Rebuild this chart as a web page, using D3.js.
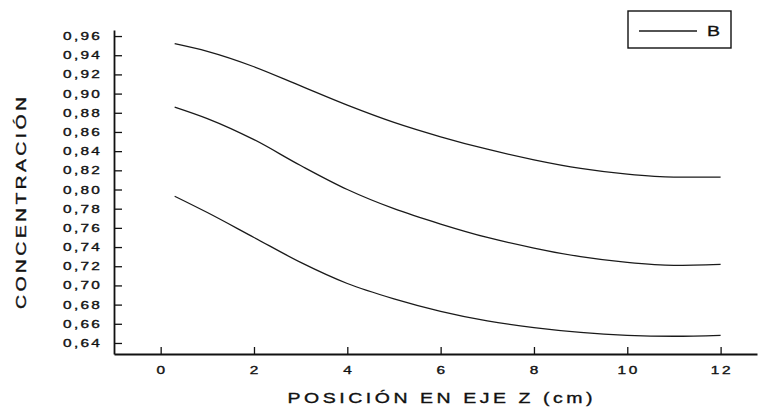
<!DOCTYPE html>
<html>
<head>
<meta charset="utf-8">
<script src="https://cdn.jsdelivr.net/npm/d3@7"></script>
<style>
  html, body { margin: 0; padding: 0; background: #fff; }
  svg { display: block; }
  text { font-family: "Liberation Sans", Arial, sans-serif; fill: #111; stroke: #111; stroke-width: 0.35; }
</style>
</head>
<body>
<svg id="chart" width="762" height="412"></svg>
<script>
// Position along the Z axis (cm)
const posZ = [0.3, 1, 2, 3, 4, 5, 6, 7, 8, 9, 10, 11, 12];

// Concentration profiles (three curves, all drawn as series "B")
const curveTop    = [0.952, 0.944, 0.928, 0.908, 0.888, 0.870, 0.855, 0.842, 0.831, 0.822, 0.816, 0.813, 0.813];
const curveMiddle = [0.886, 0.874, 0.852, 0.825, 0.800, 0.780, 0.764, 0.750, 0.739, 0.730, 0.724, 0.721, 0.722];
const curveBottom = [0.793, 0.776, 0.750, 0.724, 0.702, 0.686, 0.673, 0.663, 0.656, 0.651, 0.648, 0.647, 0.648];

// Axis ticks
const xMajor = [0, 2, 4, 6, 8, 10, 12];
const xMinor = [-1, 1, 3, 5, 7, 9, 11];
const yMajor = [0.64, 0.66, 0.68, 0.70, 0.72, 0.74, 0.76, 0.78, 0.80, 0.82, 0.84, 0.86, 0.88, 0.90, 0.92, 0.94, 0.96];
const yMinor = [0.63, 0.65, 0.67, 0.69, 0.71, 0.73, 0.75, 0.77, 0.79, 0.81, 0.83, 0.85, 0.87, 0.89, 0.91, 0.93, 0.95];

const xLabel = "POSICIÓN EN EJE Z (cm)";
const yLabel = "CONCENTRACIÓN";
const legendLabel = "B";

const svg = d3.select("#chart");
svg.append("rect").attr("width", 762).attr("height", 412).attr("fill", "#fff");

const x = d3.scaleLinear().domain([-1, 12.78]).range([114, 757]);
const y = d3.scaleLinear().domain([0.6285, 0.9663]).range([354, 30]);

const fmt = d => d3.format(".2f")(d).replace(".", ",");
const SX = 1.4; // horizontal stretch of the wide lettering

// Y axis: line, minor and major inward ticks
const gy = svg.append("g").attr("transform", `translate(${x(-1)},0)`);
gy.call(d3.axisLeft(y).tickValues(yMinor).tickSize(-4).tickSizeOuter(0).tickFormat(""));
gy.call(d3.axisLeft(y).tickValues(yMajor).tickSize(-8).tickSizeOuter(0).tickPadding(12).tickFormat(fmt));
gy.selectAll("path.domain").attr("stroke", "#111").attr("stroke-width", 1.8);
gy.selectAll(".tick line").attr("stroke", "#111").attr("stroke-width", 1.3);
gy.selectAll(".tick text")
  .attr("font-size", 11)
  .attr("letter-spacing", 1.6)
  .attr("x", -12 / SX)
  .attr("transform", `scale(${SX},1)`)
  .style("font-family", "'Liberation Sans', Arial, sans-serif")
  .attr("fill", "#111");

// X axis
const gx = svg.append("g").attr("transform", `translate(0,${y(0.6285)})`);
gx.call(d3.axisBottom(x).tickValues(xMinor).tickSize(-3).tickSizeOuter(0).tickFormat(""));
gx.call(d3.axisBottom(x).tickValues(xMajor).tickSize(-7).tickSizeOuter(0).tickPadding(12).tickFormat(d3.format("d")));
gx.selectAll("path.domain").attr("stroke", "#111").attr("stroke-width", 1.8);
gx.selectAll(".tick line").attr("stroke", "#111").attr("stroke-width", 1.3);
gx.selectAll(".tick text")
  .attr("font-size", 11)
  .attr("letter-spacing", 2)
  .attr("y", 12)
  .attr("dy", "0.71em")
  .attr("x", 1 / SX)
  .attr("transform", `scale(${SX},1)`)
  .style("font-family", "'Liberation Sans', Arial, sans-serif")
  .attr("fill", "#111");

// Curves
const line = d3.line()
  .x((d, i) => x(posZ[i]))
  .y(d => y(d))
  .curve(d3.curveMonotoneX);

[curveTop, curveMiddle, curveBottom].forEach(series => {
  svg.append("path")
    .datum(series)
    .attr("d", line)
    .attr("fill", "none")
    .attr("stroke", "#1a1a1a")
    .attr("stroke-width", 1.3);
});

// Axis titles
svg.append("text")
  .attr("transform", `translate(440,403) scale(1.3,1)`)
  .attr("text-anchor", "middle")
  .attr("font-size", 15)
  .attr("textLength", 305 / 1.3)
  .attr("lengthAdjust", "spacing")
  .text(xLabel);

svg.append("text")
  .attr("transform", `translate(26,203) rotate(-90) scale(1.3,1)`)
  .attr("text-anchor", "middle")
  .attr("font-size", 15)
  .attr("textLength", 212 / 1.3)
  .attr("lengthAdjust", "spacing")
  .text(yLabel);

// Legend
const lg = svg.append("g");
lg.append("rect")
  .attr("x", 628).attr("y", 11).attr("width", 103).attr("height", 37)
  .attr("fill", "#fff").attr("stroke", "#111").attr("stroke-width", 1.4);
lg.append("line")
  .attr("x1", 639).attr("x2", 697).attr("y1", 31).attr("y2", 31)
  .attr("stroke", "#1a1a1a").attr("stroke-width", 1.3);
lg.append("text")
  .attr("transform", "translate(707,36) scale(1.3,1)")
  .attr("font-size", 15)
  .text(legendLabel);
</script>
</body>
</html>
